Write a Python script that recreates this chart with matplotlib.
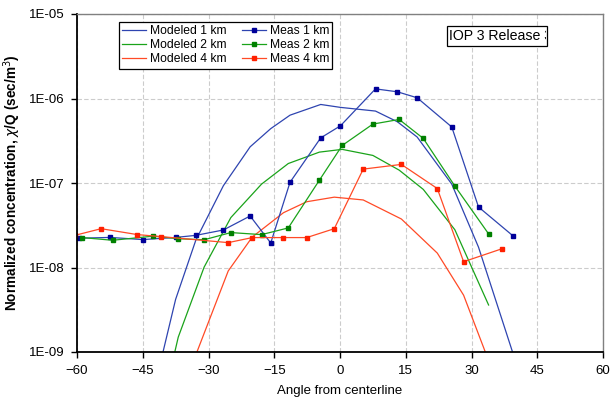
import matplotlib
matplotlib.use("Agg")
import matplotlib.pyplot as plt
from matplotlib.transforms import Bbox, TransformedBbox
from matplotlib.patches import Rectangle

# measured, 1 km
meas1_x = [-59.5, -52.5, -45.0, -37.5, -32.9, -26.6, -20.5, -15.8, -11.4, -4.4, 0.1, 8.1, 13.1, 17.6, 25.5, 31.6, 39.5]
meas1_y = [2.22e-8, 2.27e-8, 2.14e-8, 2.27e-8, 2.4e-8, 2.78e-8, 4.07e-8, 1.95e-8, 1.02e-7, 3.42e-7, 4.75e-7,
           1.30e-6, 1.20e-6, 1.02e-6, 4.6e-7, 5.2e-8, 2.36e-8]
# modeled, 1 km
mod1_x = [-45.0, -37.5, -32.9, -26.6, -20.5, -15.8, -11.4, -4.4, 0.1, 8.1, 13.1, 17.6, 25.5, 31.6, 39.5]
mod1_y = [1.0e-10, 4.2e-9, 2.1e-8, 9.3e-8, 2.68e-7, 4.4e-7, 6.35e-7, 8.5e-7, 7.85e-7, 7.1e-7, 5.3e-7,
          3.5e-7, 9.7e-8, 1.74e-8, 9.5e-10]

# measured, 2 km
meas2_x = [-58.8, -51.9, -42.6, -36.9, -31.0, -24.9, -17.9, -11.8, -4.7, 0.5, 7.5, 13.5, 19.0, 26.2, 33.9]
meas2_y = [2.26e-8, 2.1e-8, 2.35e-8, 2.19e-8, 2.13e-8, 2.59e-8, 2.45e-8, 2.94e-8, 1.08e-7, 2.78e-7,
           4.98e-7, 5.65e-7, 3.37e-7, 9.2e-8, 2.5e-8]
# modeled, 2 km
mod2_x = [-42.6, -36.9, -31.0, -24.9, -17.9, -11.8, -4.7, 0.5, 7.5, 13.5, 19.0, 26.2, 33.9]
mod2_y = [8.0e-11, 1.5e-9, 1.01e-8, 3.9e-8, 9.7e-8, 1.7e-7, 2.32e-7, 2.5e-7, 2.12e-7, 1.42e-7,
          8.4e-8, 2.8e-8, 3.6e-9]

# measured, 4 km
meas4_x = [-60.5, -54.5, -46.2, -40.8, -25.5, -20.0, -12.9, -7.6, -1.3, 5.3, 14.0, 22.2, 28.2, 37.0]
meas4_y = [2.4e-8, 2.88e-8, 2.45e-8, 2.32e-8, 1.97e-8, 2.26e-8, 2.26e-8, 2.26e-8, 2.88e-8, 1.46e-7,
           1.66e-7, 8.6e-8, 1.17e-8, 1.67e-8]
# modeled, 4 km
mod4_x = [-40.8, -25.5, -20.0, -12.9, -7.6, -1.3, 5.3, 14.0, 22.2, 28.2, 37.0]
mod4_y = [8.0e-11, 9.1e-9, 2.3e-8, 4.45e-8, 6.0e-8, 6.8e-8, 6.3e-8, 3.75e-8, 1.48e-8, 4.7e-9, 3.0e-10]

x_ticks = [-60, -45, -30, -15, 0, 15, 30, 45, 60]
y_ticks = [1e-9, 1e-8, 1e-7, 1e-6, 1e-5]
y_tick_labels = ["1E-09", "1E-08", "1E-07", "1E-06", "1E-05"]

plt.rcParams['font.family'] = ['Liberation Sans', 'DejaVu Sans']

fig = plt.figure(figsize=(6.15, 4.0), dpi=100)
ax = fig.add_axes([77 / 615, 1 - 352 / 400, 526 / 615, 338 / 400])

lw = 0.9
ms = 3.2
ax.plot(mod1_x, mod1_y, color='#2e44b0', lw=lw, label='Modeled 1 km')
ax.plot(mod2_x, mod2_y, color='#1aa31a', lw=lw, label='Modeled 2 km')
ax.plot(mod4_x, mod4_y, color='#ff4a26', lw=lw, label='Modeled 4 km')
ax.plot(meas1_x, meas1_y, color='#2e44b0', lw=lw, marker='s', ms=ms, mfc='#000099', mec='#000099',
        label='Meas 1 km')
ax.plot(meas2_x, meas2_y, color='#1aa31a', lw=lw, marker='s', ms=ms, mfc='#008000', mec='#008000',
        label='Meas 2 km')
ax.plot(meas4_x, meas4_y, color='#ff4a26', lw=lw, marker='s', ms=ms, mfc='#ff2000', mec='#ff2000',
        label='Meas 4 km')

ax.set_yscale('log')
ax.set_xlim(-60, 60)
ax.set_ylim(1e-9, 1e-5)
ax.set_xticks(x_ticks)
ax.set_yticks(y_ticks)
ax.set_yticklabels(y_tick_labels)
ax.minorticks_off()
ax.tick_params(axis='both', labelsize=9.5, length=4, width=1, direction='out', pad=5)
ax.tick_params(axis='both', which='minor', length=0)

ax.grid(True, color='#cccccc', lw=0.8, ls=(0, (4, 2)))
ax.set_axisbelow(True)

for side in ['top', 'right']:
    ax.spines[side].set_color('#808080')
    ax.spines[side].set_linewidth(1.0)
for side in ['left', 'bottom']:
    ax.spines[side].set_color('black')
    ax.spines[side].set_linewidth(1.3)

ax.set_xlabel('Angle from centerline', fontsize=9.5)
ax.xaxis.set_label_coords(0.5, -0.098)
ax.set_ylabel(r'Normalized concentration, $\mathbf{\it{\chi}}$/Q (sec/m$^3$)', fontsize=9.8,
              fontweight='bold')
ax.yaxis.set_label_coords(-0.103, 0.5)

leg = ax.legend(ncol=2, loc='upper left', bbox_to_anchor=(0.08, 0.976), borderaxespad=0,
                fontsize=8.7, frameon=True, fancybox=False, edgecolor='black', framealpha=1,
                handlelength=2.0, handletextpad=0.3, columnspacing=1.3,
                labelspacing=0.18, borderpad=0.25, markerscale=0.8)
leg.get_frame().set_linewidth(0.9)

# boxed label, text is cut by the box edge
box_x0, box_y0, box_w, box_h = 0.7034, 0.905, 0.19, 0.059
ax.add_patch(Rectangle((box_x0, box_y0), box_w, box_h, transform=ax.transAxes,
                       fill=True, fc='white', ec='black', lw=0.9, zorder=5))
txt = ax.text(box_x0 + 0.003, box_y0 + box_h / 2, 'IOP 3 Release 3', transform=ax.transAxes,
              fontsize=10.2, va='center', ha='left', zorder=6)
txt.set_clip_box(TransformedBbox(Bbox([[box_x0, box_y0], [box_x0 + box_w - 0.002, box_y0 + box_h]]),
                                 ax.transAxes))
txt.set_clip_on(True)

fig.savefig('out.png', dpi=100)
